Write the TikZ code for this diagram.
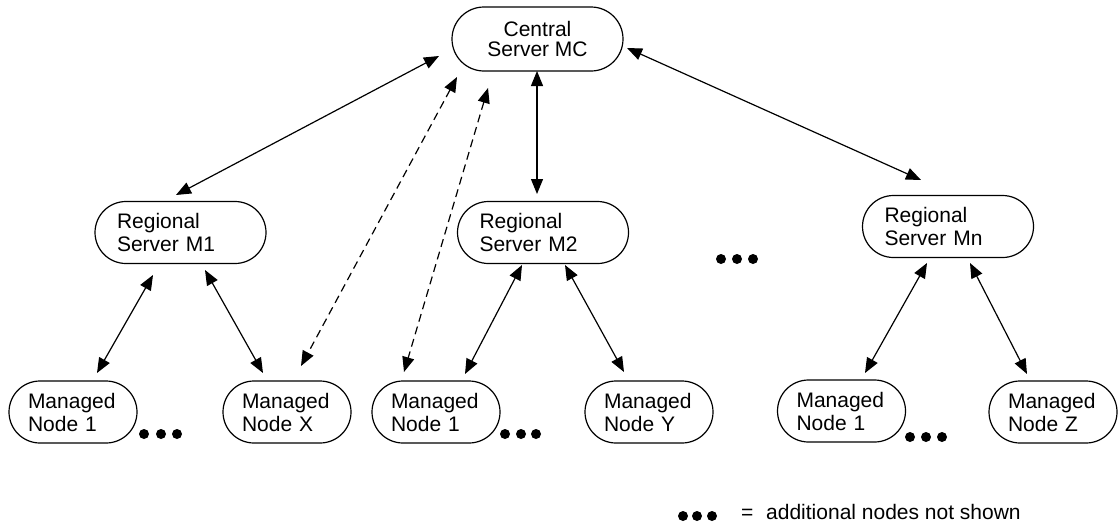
\documentclass[tikz,border=0pt]{standalone}
\usepackage{fontspec}
\setmainfont{Liberation Sans}
\usetikzlibrary{arrows.meta}
\tikzset{
  box/.style={draw, line width=1.2pt, inner sep=0pt, font=\fontsize{21}{23}\selectfont},
  central/.style={box, rounded corners=32pt, minimum width=171pt, minimum height=64pt, align=center, font=\fontsize{21}{20}\selectfont},
  regional/.style={box, rounded corners=31pt, minimum width=171pt, minimum height=62pt, text width=127pt, align=left},
  managed/.style={box, rounded corners=31pt, minimum width=128pt, minimum height=62pt, text width=90pt, align=left},
  link/.style={{Triangle[length=15pt,width=12pt]}-{Triangle[length=15pt,width=12pt]}, line width=1.2pt},
  dlink/.style={link, dash pattern=on 8pt off 5pt},
  dot/.style={fill=black}
}
\begin{document}
\begin{tikzpicture}[x=1pt,y=-1pt]
\useasboundingbox (0,0) rectangle (1118,525);
% nodes
\node[central]  (C)   at (537.5,39)  {Central\\Server MC};
\node[regional] (M1)  at (180.5,232.5) {Regional\\Server M1};
\node[regional] (M2)  at (543,232.5) {Regional\\Server M2};
\node[regional] (Mn)  at (948,226.5) {Regional\\Server Mn};
\node[managed]  (N1a) at (73,412)    {Managed\\Node 1};
\node[managed]  (NX)  at (287,412)   {Managed\\Node X};
\node[managed]  (N1b) at (436,412)   {Managed\\Node 1};
\node[managed]  (NY)  at (649,412)   {Managed\\Node Y};
\node[managed]  (N1c) at (841.5,411) {Managed\\Node 1};
\node[managed]  (NZ)  at (1053,412)  {Managed\\Node Z};
% connector end points
\coordinate (cM1a) at (439,56);   \coordinate (cM1b) at (176,195);
\coordinate (dXa)  at (457,77);   \coordinate (dXb)  at (301,366);
\coordinate (d1a)  at (488,88);   \coordinate (d1b)  at (404,372);
\coordinate (cM2a) at (537,71);   \coordinate (cM2b) at (537,194);
\coordinate (cMna) at (627,48);   \coordinate (cMnb) at (921,180);
\coordinate (m1a)  at (153,275);  \coordinate (m1b)  at (97,373);
\coordinate (mXa)  at (205,270);  \coordinate (mXb)  at (263,373);
\coordinate (m2a)  at (522,265);  \coordinate (m2b)  at (465,374);
\coordinate (mYa)  at (565,265);  \coordinate (mYb)  at (624,372);
\coordinate (n1a)  at (927,263);  \coordinate (n1b)  at (865,373);
\coordinate (nZa)  at (970,263);  \coordinate (nZb)  at (1027,374);
% connectors
\draw[link]  (cM1a) -- (cM1b);
\draw[dlink] (dXa) -- (dXb);
\draw[dlink] (d1a) -- (d1b);
\draw[link]  (cM2a) -- (cM2b);
\draw[link]  (cMna) -- (cMnb);
\draw[link]  (m1a) -- (m1b);
\draw[link]  (mXa) -- (mXb);
\draw[link]  (m2a) -- (m2b);
\draw[link]  (mYa) -- (mYb);
\draw[link]  (n1a) -- (n1b);
\draw[link]  (nZa) -- (nZb);
% ellipsis dots
\foreach \x/\y in {144/434,161/434,177/434, 505/434,521/434,536/434,
                   910/437,926/437,942/437, 721/259,737/259,753/259,
                   683/516,697/516,712/516}
  \fill[dot] (\x,\y) circle (5pt);
% legend
\node[anchor=base west, inner sep=0pt, font=\fontsize{21}{23}\selectfont] (eq) at (741,519) {=};
\node[anchor=base west, inner sep=0pt, font=\fontsize{21}{23}\selectfont] (legend) at (766,519) {additional nodes not shown};
\end{tikzpicture}
\end{document}
